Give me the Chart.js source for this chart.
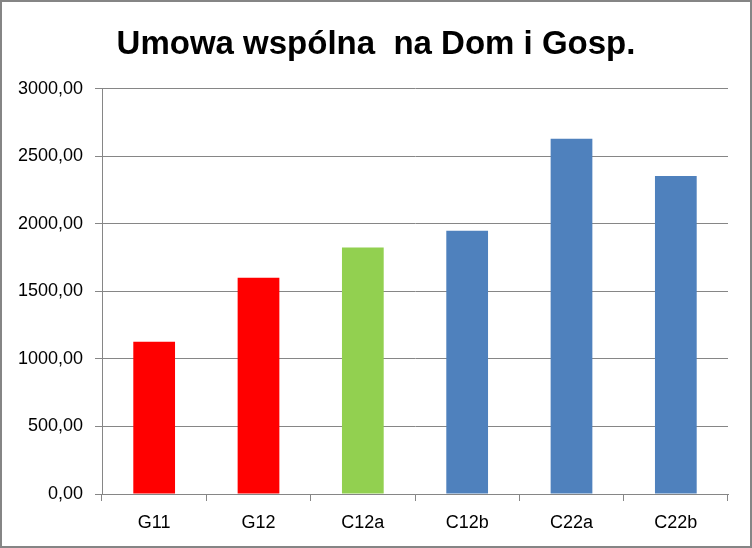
<!DOCTYPE html>
<html>
<head>
<meta charset="utf-8">
<script src="https://cdn.jsdelivr.net/npm/chart.js@4/dist/chart.umd.min.js"></script>
<style>
  html, body { margin: 0; padding: 0; background: #fff; }
  #wrap { width: 748px; height: 544px; border: 2px solid #858585; }
</style>
</head>
<body>
<div id="wrap"><canvas id="chart" width="748" height="544"></canvas></div>
<script>
const titleText = 'Umowa wspólna  na Dom i Gosp.';
const categories = ['G11', 'G12', 'C12a', 'C12b', 'C22a', 'C22b'];
const values = [1126, 1600, 1825, 1948, 2628, 2354];
const barColors = ['#FF0000', '#FF0000', '#92D050', '#4F81BD', '#4F81BD', '#4F81BD'];
const yTicks = [0, 500, 1000, 1500, 2000, 2500, 3000];

const fontFamily = '"Liberation Sans", Arial, sans-serif';

new Chart(document.getElementById('chart'), {
  type: 'bar',
  data: {
    labels: categories,
    datasets: [{
      data: values,
      backgroundColor: barColors,
      barPercentage: 0.4,
      categoryPercentage: 1.0
    }]
  },
  options: {
    responsive: false,
    animation: false,
    devicePixelRatio: 1,
    layout: { padding: 0 },
    plugins: {
      legend: { display: false },
      tooltip: { enabled: false },
      title: {
        display: true,
        text: titleText,
        color: '#000',
        font: { family: fontFamily, size: 33, weight: 'bold' },
        padding: { top: 23, bottom: 24 }
      }
    },
    scales: {
      x: {
        grid: {
          drawOnChartArea: false,
          drawTicks: true,
          tickLength: 7,
          color: '#868686',
          offset: true
        },
        border: { color: '#868686', width: 1 },
        ticks: {
          color: '#000',
          font: { family: fontFamily, size: 18 },
          padding: 11,
          maxRotation: 0
        },
        afterFit: (scale) => { scale.height = 52; }
      },
      y: {
        min: 0,
        max: 3000,
        afterBuildTicks: (scale) => { scale.ticks = yTicks.map(v => ({ value: v })); },
        grid: {
          color: '#868686',
          drawTicks: true,
          tickLength: 7
        },
        border: { color: '#868686', width: 1 },
        ticks: {
          color: '#000',
          font: { family: fontFamily, size: 18 },
          padding: 12,
          callback: (v) => v.toFixed(2).replace('.', ',')
        },
        afterFit: (scale) => { scale.width = 100; }
      },
      // empty spacer on the right so the title stays centred on the whole frame
      spacer: {
        position: 'right',
        min: 0,
        max: 1,
        grid: { display: false, drawTicks: false },
        border: { display: false },
        ticks: { display: false },
        afterFit: (scale) => { scale.width = 22; }
      }
    }
  }
});
</script>
</body>
</html>
